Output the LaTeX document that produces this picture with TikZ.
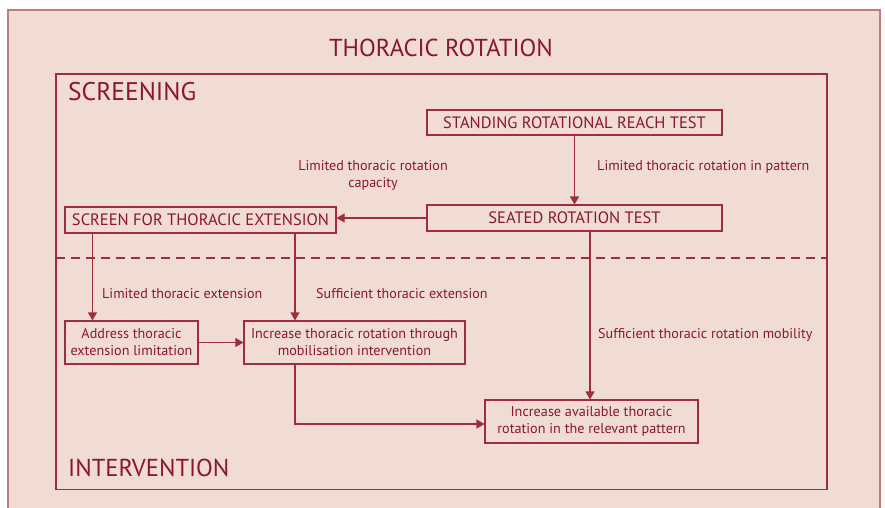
\documentclass[tikz,border=0pt]{standalone}
\usepackage{fontspec}
\setmainfont{PT Sans}
\usetikzlibrary{arrows.meta}
\definecolor{bgpink}{HTML}{F0DBD5}
\definecolor{outerred}{HTML}{C47B77}
\definecolor{dred}{HTML}{8A1828}
\definecolor{boxred}{HTML}{9E2F3A}
\tikzset{
  every node/.style={text=dred},
  box/.style={draw=boxred, line width=1.1pt, fill=none, inner sep=0pt, align=center, font=\fontsize{14.2}{17}\selectfont},
  capbox/.style={draw=boxred, line width=1.1pt, inner sep=0pt, font=\fontsize{16.5}{18}\selectfont},
  lbl/.style={font=\fontsize{14.1}{17}\selectfont, align=center, inner sep=0pt},
  conn/.style={draw=boxred, line width=1.1pt, -{Triangle[length=8pt,width=9pt]}},
  big/.style={font=\fontsize{24.5}{26}\selectfont},
}
\begin{document}
\begin{tikzpicture}[x=1pt,y=-1pt]
\useasboundingbox (0,0) rectangle (885,508);
\clip (0,0) rectangle (885,508);
\fill[white] (0,0) rectangle (885,508);
\draw[fill=bgpink, draw=outerred, line width=2pt] (7.5,10) rectangle (879.5,530);
\draw[draw=boxred, line width=1.1pt] (56,74) rectangle (827,489.5);
\node[big] (title) at (441,48) {THORACIC ROTATION};
\node[big, font=\fontsize{25.5}{26}\selectfont, anchor=west, inner sep=0pt] (scr) at (68,92) {SCREENING};
\node[big, anchor=west, inner sep=0pt] (int) at (68,468) {INTERVENTION};
\draw[boxred, line width=1.6pt, dash pattern=on 9pt off 6pt] (56,258) -- (827,258);

\node[capbox, minimum width=295pt, minimum height=25pt] (stand) at (574.5,122.5) {STANDING ROTATIONAL REACH TEST};
\node[capbox, minimum width=295pt, minimum height=26pt] (seat) at (574.5,218) {SEATED ROTATION TEST};
\node[capbox, minimum width=271pt, minimum height=26pt] (ext) at (200.5,220) {SCREEN FOR THORACIC EXTENSION};
\node[box, minimum width=133pt, minimum height=43pt] (addr) at (131.5,342.5) {Address thoracic\\extension limitation};
\node[box, minimum width=221pt, minimum height=43pt] (mob) at (354.5,342.5) {Increase thoracic rotation through\\mobilisation intervention};
\node[box, minimum width=213pt, minimum height=43pt] (avail) at (591.5,421.5) {Increase available thoracic\\rotation in the relevant pattern};

\coordinate (c1) at (295,424);
\draw[conn] (stand) -- (seat);
\draw[conn] (seat.west) -- (ext.east |- seat.west);
\draw[conn] (ext.south -| addr.west) ++(28,0) coordinate (e1) -- (e1 |- addr.north);
\draw[conn] (ext.south -| c1) -- (c1 |- mob.north);
\draw[conn] (addr) -- (mob);
\draw[conn] (seat.south -| avail.center) ++(-1.5,0) coordinate (s1) -- (s1 |- avail.north);
\draw[conn] (mob.south -| c1) -- (c1) -- (avail.west |- c1);

\node[lbl] (l1) at (373,175.5) {Limited thoracic rotation\\capacity};
\node[lbl, anchor=west] (l2) at (597,167) {Limited thoracic rotation in pattern};
\node[lbl, anchor=west] (l3) at (102,294) {Limited thoracic extension};
\node[lbl, anchor=west] (l4) at (316,294) {Sufficient thoracic extension};
\node[lbl, anchor=west] (l5) at (598,335) {Sufficient thoracic rotation mobility};
\end{tikzpicture}
\end{document}
